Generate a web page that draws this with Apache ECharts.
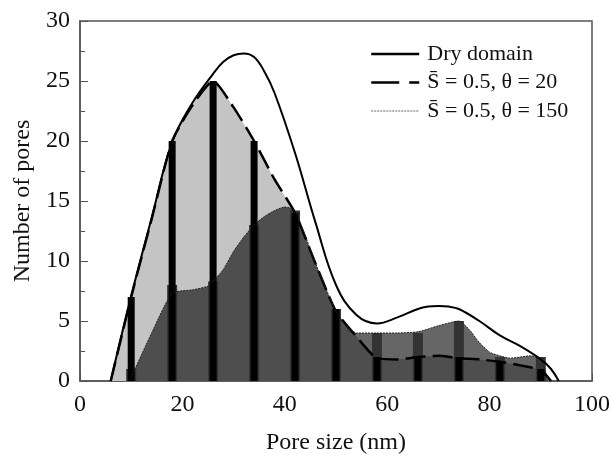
<!DOCTYPE html>
<html>
<head>
<meta charset="utf-8">
<script src="https://cdn.jsdelivr.net/npm/echarts@6/dist/echarts.min.js"></script>
<style>
  html, body { margin: 0; padding: 0; background: #fff; }
  #chart { width: 613px; height: 460px; }
</style>
</head>
<body>
<div id="chart"></div>
<script>
// bar positions (nm) and heights of the two wetted histograms
const poreX = [10, 18, 26, 34, 42, 50, 58, 66, 74, 82, 90];
const barsTheta20 = [7, 20, 25, 20, 14, 6, 2, 2, 2, 1.6, 1];
const barsTheta150 = [1, 8, 8.3, 13, 14.2, 6, 4, 4, 5, 2, 2];

// dry domain curve
const dryX = [6, 10, 14, 18, 22, 26, 28, 30, 32, 34, 36, 38, 42, 46, 50, 54, 58, 62, 66, 68, 70, 72, 74, 78, 82, 86, 90, 92, 93.5];
const dryY = [0, 7.1, 13.6, 19.9, 23.2, 25.6, 26.6, 27.15, 27.3, 27.0, 25.8, 24, 19, 13.2, 8, 5.5, 4.8, 5.3, 6.0, 6.2, 6.25, 6.2, 6.0, 5, 3.8, 2.9, 1.8, 1, 0];

// S = 0.5, theta = 20
const t20X = [6, 10, 14, 18, 22, 26, 30, 34, 38, 42, 46, 50, 54, 58, 62, 66, 70, 74, 78, 82, 86, 90, 92];
const t20Y = [0, 7, 13.5, 20, 23, 25, 22.8, 20, 16.8, 14, 9.8, 5.8, 3.7, 1.9, 1.8, 2, 2.1, 1.9, 1.8, 1.6, 1.3, 0.9, 0];

// S = 0.5, theta = 150
const t150X = [10, 14, 18, 22, 25, 26, 28, 30, 32, 34, 36, 38, 40, 42, 46, 50, 52, 54, 58, 62, 66, 70, 74, 76, 78, 80, 82, 84, 86, 88, 90, 91.5];
const t150Y = [0.3, 4, 7.3, 7.6, 7.9, 8.3, 9.3, 10.8, 12, 13, 13.7, 14.2, 14.5, 14.2, 9.8, 5.8, 4.6, 4, 4, 4, 4.1, 4.6, 5, 4.3, 3.2, 2.4, 2.1, 1.9, 2, 2.1, 1.8, 0];

const nameDry = 'Dry domain';
const name20 = 'S\u0304 = 0.5, \u03b8 = 20';
const name150 = 'S\u0304 = 0.5, \u03b8 = 150';

const zip = (xs, ys) => xs.map((x, i) => [x, ys[i]]);
const font = "'Liberation Serif', 'DejaVu Serif', serif";

const chart = echarts.init(document.getElementById('chart'));
chart.setOption({
    animation: false,
    textStyle: { fontFamily: font },
    grid: {
        left: 80, right: 21, top: 21, bottom: 77,
        show: true, borderColor: '#555', borderWidth: 1.5
    },
    legend: {
        orient: 'vertical',
        left: 365,
        top: 38,
        itemWidth: 48,
        itemHeight: 14,
        itemGap: 6.5,
        itemStyle: { opacity: 0 },
        textStyle: { fontFamily: font, fontSize: 22, color: '#111', lineHeight: 22, padding: [0, 0, 0, 3] },
        data: [
            { name: nameDry, lineStyle: { width: 2.5 } },
            { name: name20, lineStyle: { width: 2.5, type: [28, 10] } },
            { name: name150, lineStyle: { width: 1, type: [2, 1], color: '#666' } }
        ]
    },
    xAxis: [{
        type: 'value',
        min: 0, max: 100, interval: 20,
        name: 'Pore size (nm)',
        nameLocation: 'middle',
        nameGap: 50,
        nameTextStyle: { fontFamily: font, fontSize: 24, color: '#111' },
        axisLine: { lineStyle: { color: '#555', width: 1.5 } },
        axisTick: { inside: true, length: 8, lineStyle: { color: '#555' } },
        minorTick: { show: true, splitNumber: 2, length: 5, lineStyle: { color: '#555' } },
        splitLine: { show: false },
        axisLabel: { fontFamily: font, fontSize: 24, color: '#111', margin: 12 }
    }, {
        type: 'value', min: 0, max: 100, show: false
    }],
    yAxis: {
        type: 'value',
        min: 0, max: 30, interval: 5,
        name: 'Number of pores',
        nameLocation: 'middle',
        nameGap: 45,
        nameTextStyle: { fontFamily: font, fontSize: 24, color: '#111' },
        axisLine: { show: true, lineStyle: { color: '#555', width: 1.5 } },
        axisTick: { show: true, inside: true, length: 8, lineStyle: { color: '#555' } },
        minorTick: { show: true, splitNumber: 2, length: 5, lineStyle: { color: '#555' } },
        splitLine: { show: false },
        axisLabel: { fontFamily: font, fontSize: 24, color: '#111', margin: 10 }
    },
    series: [
        {
            name: 'area20', type: 'line', data: zip(t20X, t20Y), z: 1,
            symbol: 'none', smooth: 0.2,
            lineStyle: { width: 0 },
            areaStyle: { color: '#c4c4c4', opacity: 1 }
        },
        {
            name: 'area150', type: 'line', data: zip(t150X, t150Y), z: 2,
            symbol: 'none', smooth: 0.2,
            lineStyle: { width: 0 },
            areaStyle: { color: 'rgba(0,0,0,0.6)', opacity: 1 }
        },
        {
            name: 'bars150', type: 'bar', xAxisIndex: 1, z: 3,
            data: zip(poreX, barsTheta150), barWidth: 10,
            itemStyle: { color: '#333' }
        },
        {
            name: 'bars20', type: 'bar', z: 4,
            data: zip(poreX, barsTheta20), barWidth: 7,
            itemStyle: { color: '#000' }
        },
        {
            name: name20, type: 'line', data: zip(t20X, t20Y), z: 5,
            symbol: 'none', smooth: 0.2, color: '#000',
            lineStyle: { color: '#000', width: 2.5, type: [20, 7] }
        },
        {
            name: name150, type: 'line', data: zip(t150X, t150Y), z: 5,
            symbol: 'none', smooth: 0.2, color: '#666',
            lineStyle: { color: '#222', width: 1, type: [2, 1] }
        },
        {
            name: nameDry, type: 'line', data: zip(dryX, dryY), z: 6,
            symbol: 'none', smooth: 0.4, color: '#000',
            lineStyle: { color: '#000', width: 2 }
        }
    ]
});
</script>
</body>
</html>
